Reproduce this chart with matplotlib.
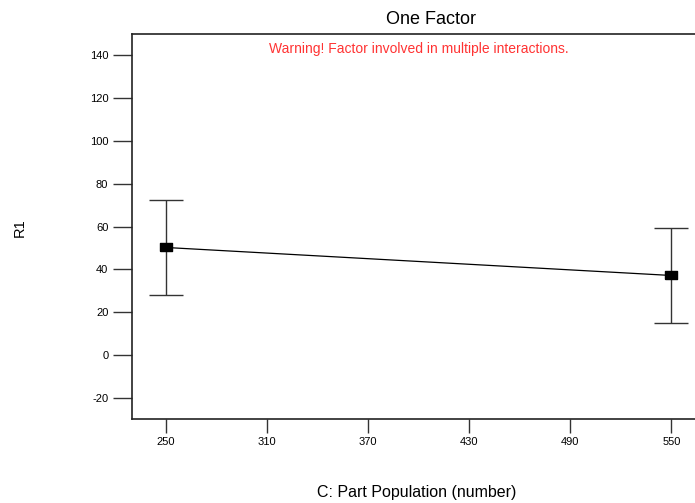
import numpy as np
import matplotlib.pyplot as plt

plt.rcParams['font.family'] = ['Liberation Sans', 'DejaVu Sans']
plt.rcParams['axes.unicode_minus'] = False

# factor levels and predicted response with error bar half-widths
levels = [250, 550]
r1_mean = [50.2, 37.1]
r1_err = [22.1, 22.1]

xticks = [250, 310, 370, 430, 490, 550]
yticks = [-20, 0, 20, 40, 60, 80, 100, 120, 140]

fig = plt.figure(figsize=(6.95, 5.03), dpi=100)
ax = fig.add_axes([0.1899, 0.167, 0.8245, 0.7654])

# wide rectangle marker
rect = [(-1.5, -1), (1.5, -1), (1.5, 1), (-1.5, 1), (-1.5, -1)]

ax.errorbar(levels, r1_mean, yerr=r1_err, fmt='none', ecolor='#333333',
            elinewidth=1, capsize=12, capthick=1, zorder=2)
ax.plot(levels, r1_mean, color='black', linewidth=0.9, zorder=3)
ax.plot(levels, r1_mean, linestyle='none', marker=rect, markersize=9,
        color='black', zorder=4)

ax.set_xlim(230, 570)
ax.set_ylim(-30, 150)
ax.set_xticks(xticks)
ax.set_yticks(yticks)
ax.tick_params(direction='out', length=14, width=1, color='#333333',
               labelsize=8, pad=3)
ax.tick_params(axis='x', length=10)
for s in ax.spines.values():
    s.set_linewidth(1.2)
    s.set_color('#222222')

fig.text(0.62, 0.962, 'One Factor', ha='center', va='center', fontsize=13)
ax.text(0.5, 0.96, 'Warning! Factor involved in multiple interactions.',
        transform=ax.transAxes, ha='center', va='center', fontsize=10,
        color='#ff3333')
fig.text(0.029, 0.547, 'R1', rotation=90, ha='center', va='center',
         fontsize=10.5)
fig.text(0.6, 0.02, 'C: Part Population (number)', ha='center', va='center',
         fontsize=11.5)

fig.savefig('out.png', dpi=100)
